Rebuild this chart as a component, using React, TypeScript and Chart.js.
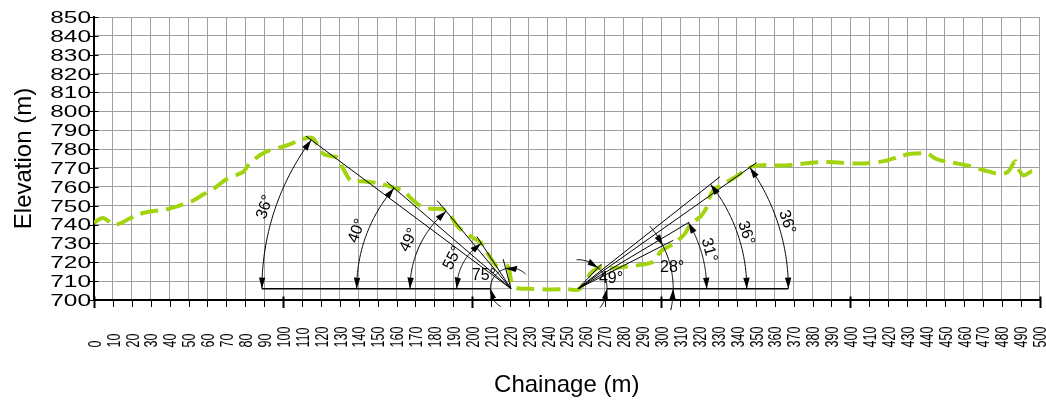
import React, { useEffect, useRef } from 'react';
import { Chart, registerables } from 'chart.js';

Chart.register(...registerables);

// ---- Terrain profile (chainage m, elevation m) ----
const chainage = [0, 4.6, 10.7, 14.3, 23, 30, 38, 45, 52, 58, 64, 70, 76, 79, 82, 86, 92, 100.6, 107.7, 113, 116, 120, 122, 129, 131, 136, 141, 150, 158.7, 164, 167.5, 173, 178, 185, 188.7, 192.2, 199.3, 204.5, 208, 211.6, 213.4, 218.6, 221.3, 224, 229, 240, 250, 256.5, 262.7, 268, 273, 282, 289, 296, 299.7, 306.7, 312, 315.5, 320.8, 324.3, 325, 327.9, 338.4, 347.3, 354.3, 365, 382.5, 391.3, 405.4, 417.7, 426.6, 431.8, 440.6, 445.9, 453, 463.6, 470.6, 477.7, 483, 486.4, 487.5, 489.1, 491.7, 496.1, 500];
const elevation = [741, 743.5, 740, 740.8, 745.2, 747, 748, 750, 752.5, 756, 759.5, 764, 766.5, 768, 772, 775.5, 779, 781.5, 784.2, 786, 785.5, 779, 777, 775.4, 771, 763, 763, 762, 759.5, 757.6, 754, 749.6, 748.4, 747.9, 744.3, 739, 733.7, 730.5, 725, 719.5, 717.9, 718, 708, 706.2, 706, 705.6, 705.7, 705.7, 714.2, 717.5, 716.8, 717.7, 718.6, 720.4, 725.7, 730, 734.6, 740, 744.3, 749.6, 753, 758.5, 764.7, 770.5, 771.5, 771.3, 773, 773, 772.3, 773.6, 776.2, 777.5, 777.5, 774.5, 773, 770.9, 768.8, 767, 767.7, 772.7, 773.5, 769.1, 766, 768.2, 766.5];

// ---- Axis ticks ----
const xTickValues = [0, 10, 20, 30, 40, 50, 60, 70, 80, 90, 100, 110, 120, 130, 140, 150, 160, 170, 180, 190, 200, 210, 220, 230, 240, 250, 260, 270, 280, 290, 300, 310, 320, 330, 340, 350, 360, 370, 380, 390, 400, 410, 420, 430, 440, 450, 460, 470, 480, 490, 500];
const xTickLabels = xTickValues.map(String);
const yTickValues = [700, 710, 720, 730, 740, 750, 760, 770, 780, 790, 800, 810, 820, 830, 840, 850];
const yTickLabels = yTickValues.map(String);

// ---- Slope-angle annotations (chainage / elevation units) ----
const leftApex = [220.5, 706];
const rightApex = [256, 706];
const angleText = ['36°', '40°', '49°', '55°', '75°', '49°', '28°', '31°', '36°', '36°'];
const angleSide = ['L', 'L', 'L', 'L', 'L', 'R', 'R', 'R', 'R', 'R'];
const lineEndChainage = [112.1, 154.8, 181.5, 202.5, 216.4, 268.4, 306.3, 314.8, 331.0, 350.4];
const lineEndElevation = [786.9, 762.7, 752.7, 733.6, 721.6, 719.1, 731.6, 741.3, 765.3, 772.8];
const arcBaseChainage = [88.8, 138.9, 167.1, 191.8, 209.6, 271.3, 306.3, 324.0, 345.2, 367.2];
const labelChainage = [90.4, 139.1, 166.6, 189.8, 206.2, 273.4, 305.7, 325.2, 344.8, 366.5];
const labelElevation = [749.3, 736.6, 731.8, 722.3, 712.7, 711.1, 717.0, 726.5, 735.5, 741.3];

// styles (arrow placement for small angles)
const ARC_STYLE: { outside: boolean; from?: number; to?: number }[] = [
  { outside: false },
  { outside: false },
  { outside: false },
  { outside: false },
  { outside: true, from: -60, to: 136 },
  { outside: true, from: -41, to: 93 },
  { outside: true, from: -13, to: 41 },
  { outside: false },
  { outside: false },
  { outside: false },
];

const FONT = '"Liberation Sans", Arial, Helvetica, sans-serif';
const D = Math.PI / 180;

const anglePlugin = {
  id: 'angleAnnotations',
  afterDatasetsDraw(chart: any) {
    const xs = chart.scales.x;
    const ys = chart.scales.y;
    const ctx: CanvasRenderingContext2D = chart.ctx;
    const seg = (x1: number, y1: number, x2: number, y2: number) => {
      ctx.beginPath();
      ctx.moveTo(x1, y1);
      ctx.lineTo(x2, y2);
      ctx.stroke();
    };
    const apexPx = (side: string) => {
      const a = side === 'L' ? leftApex : rightApex;
      return { x: xs.getPixelForValue(a[0]), y: ys.getPixelForValue(a[1]) };
    };
    ctx.save();
    for (const side of ['L', 'R']) {
      const P = apexPx(side);
      const pts = arcBaseChainage
        .filter((_, i) => angleSide[i] === side)
        .map((v) => xs.getPixelForValue(v));
      const outer = side === 'L' ? Math.min(...pts) : Math.max(...pts);
      const inner = side === 'L' ? Math.max(...pts) : Math.min(...pts);
      ctx.strokeStyle = '#000';
      ctx.lineWidth = 1.4;
      seg(outer, P.y, inner, P.y);
      ctx.strokeStyle = '#777';
      ctx.lineWidth = 0.7;
      seg(inner, P.y, P.x, P.y);
    }
    angleText.forEach((txt, i) => {
      const side = angleSide[i];
      const s = side === 'L' ? -1 : 1;
      const P = apexPx(side);
      const E = {
        x: xs.getPixelForValue(lineEndChainage[i]),
        y: ys.getPixelForValue(lineEndElevation[i]),
      };
      ctx.strokeStyle = '#000';
      ctx.fillStyle = '#000';
      ctx.lineWidth = 1;
      seg(P.x, P.y, E.x, E.y);
      const r = Math.abs(xs.getPixelForValue(arcBaseChainage[i]) - P.x);
      const phiL = Math.atan2(P.y - E.y, s * (E.x - P.x));
      const st = ARC_STYLE[i];
      const pt = (phi: number) => ({ x: P.x + s * r * Math.cos(phi), y: P.y - r * Math.sin(phi) });
      const a0 = st.outside ? (st.from as number) * D : 0;
      const a1 = st.outside ? (st.to as number) * D : phiL;
      ctx.beginPath();
      for (let k = 0; k <= 80; k++) {
        const p = pt(a0 + ((a1 - a0) * k) / 80);
        if (k === 0) ctx.moveTo(p.x, p.y);
        else ctx.lineTo(p.x, p.y);
      }
      ctx.stroke();
      const arrow = (phi: number, dir: number) => {
        const len = 11;
        const hw = 3.2;
        const tip = pt(phi);
        const back = phi - (dir * len) / r;
        const b = pt(back);
        const nx = s * Math.cos(back);
        const ny = -Math.sin(back);
        ctx.beginPath();
        ctx.moveTo(tip.x, tip.y);
        ctx.lineTo(b.x + nx * hw, b.y + ny * hw);
        ctx.lineTo(b.x - nx * hw, b.y - ny * hw);
        ctx.closePath();
        ctx.fill();
      };
      arrow(0, st.outside ? 1 : -1);
      arrow(phiL, st.outside ? -1 : 1);
      const lx = xs.getPixelForValue(labelChainage[i]);
      const ly = ys.getPixelForValue(labelElevation[i]);
      const theta = parseFloat(txt);
      const rot = st.outside ? 0 : (side === 'L' ? -(90 - theta / 2) : 90 - theta / 2) * D;
      ctx.save();
      ctx.translate(lx, ly);
      ctx.rotate(rot);
      ctx.font = `16px ${FONT}`;
      ctx.textAlign = 'center';
      ctx.textBaseline = 'middle';
      ctx.fillText(txt, 0, 0);
      ctx.restore();
    });
    ctx.restore();
  },
};

const axisPlugin = {
  id: 'axisTicks',
  afterDraw(chart: any) {
    const { ctx, chartArea } = chart;
    const xs = chart.scales.x;
    const ys = chart.scales.y;
    ctx.save();
    ctx.strokeStyle = '#000';
    ctx.fillStyle = '#000';
    yTickValues.forEach((v, i) => {
      const py = Math.round(ys.getPixelForValue(v)) + 0.5;
      ctx.lineWidth = 1;
      ctx.beginPath();
      ctx.moveTo(chartArea.left - 4.5, py);
      ctx.lineTo(chartArea.left + 4.5, py);
      ctx.stroke();
      const f = 16.5;
      ctx.save();
      ctx.translate(chartArea.left - 3, ys.getPixelForValue(v));
      ctx.scale(1.48, 1);
      ctx.font = `${f}px ${FONT}`;
      ctx.textAlign = 'right';
      ctx.textBaseline = 'alphabetic';
      ctx.fillText(yTickLabels[i], 0, 0.358 * f);
      ctx.restore();
    });
    xTickValues.forEach((v, i) => {
      const px = Math.round(xs.getPixelForValue(v)) + 0.5;
      const major = v % 100 === 0;
      ctx.lineWidth = major ? 2 : 1;
      ctx.beginPath();
      ctx.moveTo(px, chartArea.bottom - (major ? 3.5 : 0));
      ctx.lineTo(px, chartArea.bottom + (major ? 8 : 7));
      ctx.stroke();
      const f = 12.5;
      ctx.save();
      ctx.translate(xs.getPixelForValue(v), 347.5);
      ctx.rotate(-Math.PI / 2);
      ctx.scale(1, 1.5);
      ctx.font = `${f}px ${FONT}`;
      ctx.textAlign = 'left';
      ctx.textBaseline = 'alphabetic';
      ctx.fillText(xTickLabels[i], 0, 0.358 * f);
      ctx.restore();
    });
    ctx.restore();
  },
};

export default function App() {
  const ref = useRef<HTMLCanvasElement>(null);
  useEffect(() => {
    if (!ref.current) return;
    const points = chainage.map((c, i) => ({ x: c, y: elevation[i] }));
    const chart = new Chart(ref.current, {
      type: 'line',
      data: {
        datasets: [
          {
            data: points,
            borderColor: '#a2d40e',
            borderWidth: 4,
            borderDash: [18, 8],
            pointRadius: 0,
            tension: 0.3,
            fill: false,
          },
        ],
      },
      options: {
        animation: false,
        responsive: false,
        devicePixelRatio: 1,
        layout: { padding: { top: 17, right: 6.5, left: 0, bottom: 0 } },
        plugins: { legend: { display: false }, tooltip: { enabled: false } },
        scales: {
          x: {
            type: 'linear',
            min: 0,
            max: 500,
            afterBuildTicks: (s: any) => {
              s.ticks = xTickValues.map((v) => ({ value: v }));
            },
            afterFit: (s: any) => {
              s.height = 104;
            },
            ticks: { display: false, autoSkip: false },
            grid: { color: '#a0a0a0', lineWidth: 1, drawTicks: false },
            border: { display: true, color: '#000', width: 2 },
            title: {
              display: true,
              text: 'Chainage (m)',
              color: '#000',
              font: { family: FONT, size: 24 },
              padding: { top: 0, bottom: 4.6 },
            },
          },
          y: {
            type: 'linear',
            min: 700,
            max: 850,
            afterBuildTicks: (s: any) => {
              s.ticks = yTickValues.map((v) => ({ value: v }));
            },
            afterFit: (s: any) => {
              s.width = 94;
            },
            ticks: { display: false, autoSkip: false },
            grid: { color: '#a0a0a0', lineWidth: 1, drawTicks: false },
            border: { display: true, color: '#000', width: 2 },
            title: {
              display: true,
              text: 'Elevation (m)',
              color: '#000',
              font: { family: FONT, size: 24 },
              padding: { top: 9.6, bottom: 0 },
            },
          },
        },
      },
      plugins: [anglePlugin, axisPlugin],
    } as any);
    return () => chart.destroy();
  }, []);
  return (
    <div style={{ position: 'absolute', left: 0, top: 0, width: 1046, height: 404, background: '#fff' }}>
      <canvas ref={ref} width={1046} height={404} style={{ width: 1046, height: 404, display: 'block' }} />
    </div>
  );
}
